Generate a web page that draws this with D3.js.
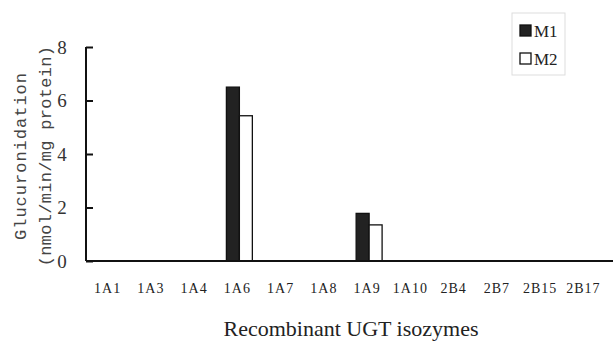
<!DOCTYPE html>
<html>
<head>
<meta charset="utf-8">
<script src="https://cdn.jsdelivr.net/npm/d3@7"></script>
<style>
  body { margin: 0; background: #fff; }
  svg { display: block; }
</style>
</head>
<body>
<div id="chart"></div>
<script>
// data
const isozymes = ['1A1', '1A3', '1A4', '1A6', '1A7', '1A8', '1A9', '1A10', '2B4', '2B7', '2B15', '2B17'];
const seriesNames = ['M1', 'M2'];
const m1Values = [0, 0, 0, 6.5, 0, 0, 1.78, 0, 0, 0, 0, 0];
const m2Values = [0, 0, 0, 5.43, 0, 0, 1.35, 0, 0, 0, 0, 0];
const yTicks = [0, 2, 4, 6, 8];

const width = 614, height = 343;
const plot = { left: 86, right: 605, top: 47, bottom: 261, axisEnd: 613 };

const svg = d3.select('#chart').append('svg')
  .attr('width', width)
  .attr('height', height);

const x = d3.scaleBand()
  .domain(isozymes)
  .range([plot.left, plot.right])
  .paddingInner(0.4)
  .paddingOuter(0.2);

const xInner = d3.scaleBand()
  .domain(seriesNames)
  .range([0, x.bandwidth()]);

const y = d3.scaleLinear()
  .domain([0, 8])
  .range([plot.bottom, plot.top]);

const colors = { M1: '#222', M2: '#fff' };

const rows = isozymes.map((name, i) => ({ name, M1: m1Values[i], M2: m2Values[i] }));

// bars
const groups = svg.append('g').selectAll('g')
  .data(rows)
  .enter()
  .append('g')
  .attr('transform', d => `translate(${x(d.name) + 2},0)`);

groups.selectAll('rect')
  .data(d => seriesNames.map(k => ({ key: k, value: d[k] })).filter(e => e.value > 0))
  .enter()
  .append('rect')
  .attr('x', d => xInner(d.key))
  .attr('y', d => y(d.value))
  .attr('width', xInner.bandwidth())
  .attr('height', d => plot.bottom - y(d.value))
  .attr('fill', d => colors[d.key])
  .attr('stroke', '#111')
  .attr('stroke-width', 1.3);

// y axis, ticks pointing inward
const yAxis = svg.append('g')
  .attr('transform', `translate(${plot.left},0)`)
  .call(d3.axisRight(y).tickValues(yTicks).tickSize(7).tickFormat(''));
yAxis.select('.domain')
  .attr('stroke', '#111')
  .attr('stroke-width', 2)
  .attr('d', `M0,${y(8)}V${plot.bottom}`);
yAxis.selectAll('.tick line').attr('stroke', '#111').attr('stroke-width', 2);

svg.selectAll('.ytick')
  .data(yTicks)
  .enter()
  .append('text')
  .attr('class', 'ytick')
  .attr('x', plot.left - 24)
  .attr('y', d => y(d))
  .attr('dy', '0.35em')
  .attr('text-anchor', 'middle')
  .attr('font-family', 'Liberation Serif')
  .attr('font-size', 19)
  .attr('fill', '#333')
  .text(d => d);

// x axis line
svg.append('line')
  .attr('x1', plot.left).attr('x2', plot.axisEnd)
  .attr('y1', plot.bottom).attr('y2', plot.bottom)
  .attr('stroke', '#111').attr('stroke-width', 2);

svg.selectAll('.xtick')
  .data(isozymes)
  .enter()
  .append('text')
  .attr('class', 'xtick')
  .attr('x', d => x(d) + x.bandwidth() / 2)
  .attr('y', 293)
  .attr('text-anchor', 'middle')
  .attr('font-family', 'Liberation Serif')
  .attr('font-size', 14)
  .attr('letter-spacing', 1)
  .attr('fill', '#222')
  .text(d => d);

// axis titles
const yTitle = svg.append('g')
  .attr('transform', `translate(0,${(plot.top + plot.bottom) / 2 + 2}) rotate(-90)`);
yTitle.append('text')
  .attr('x', 0).attr('y', 26)
  .attr('text-anchor', 'middle')
  .attr('font-family', 'Liberation Mono')
  .attr('font-size', 17)
  .attr('letter-spacing', 1)
  .attr('fill', '#444')
  .text('Glucuronidation');
yTitle.append('text')
  .attr('x', 0).attr('y', 51)
  .attr('text-anchor', 'middle')
  .attr('font-family', 'Liberation Mono')
  .attr('font-size', 17)
  .attr('letter-spacing', 0.3)
  .attr('fill', '#444')
  .text('(nmol/min/mg protein)');

svg.append('text')
  .attr('x', 351)
  .attr('y', 336)
  .attr('text-anchor', 'middle')
  .attr('font-family', 'Liberation Serif')
  .attr('font-size', 22)
  .attr('fill', '#222')
  .text('Recombinant UGT isozymes');

// legend
const legend = svg.append('g').attr('transform', 'translate(512,13)');
legend.append('rect')
  .attr('width', 53).attr('height', 62)
  .attr('fill', '#fff')
  .attr('stroke', '#ddd');
seriesNames.forEach((k, i) => {
  const row = legend.append('g').attr('transform', `translate(8,${18 + i * 28})`);
  row.append('rect')
    .attr('x', 0).attr('y', -6)
    .attr('width', 11).attr('height', 11)
    .attr('fill', colors[k])
    .attr('stroke', '#111')
    .attr('stroke-width', 1.3);
  row.append('text')
    .attr('x', 14).attr('y', 0)
    .attr('dy', '0.35em')
    .attr('font-family', 'Liberation Serif')
    .attr('font-size', 17)
    .attr('fill', '#222')
    .text(k);
});
</script>
</body>
</html>
